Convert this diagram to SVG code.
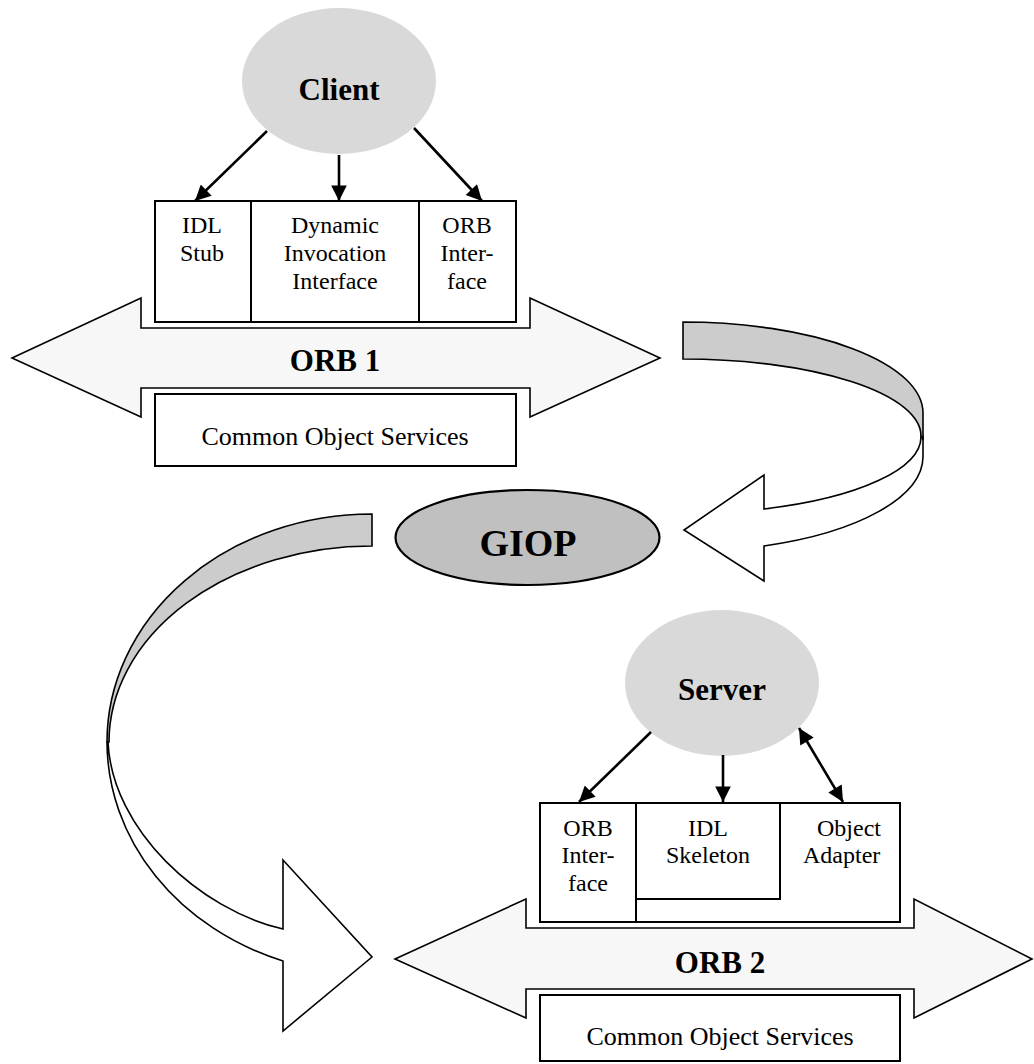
<svg xmlns="http://www.w3.org/2000/svg" width="1034" height="1064" viewBox="0 0 1034 1064">
  <style>
    .bg { fill: #ffffff; }
    .actor { fill: #d9d9d9; stroke: none; }
    .box { fill: #ffffff; stroke: #000000; stroke-width: 2; }
    .line { fill: none; stroke: #000000; stroke-width: 2; }
    .bus { fill: #f7f7f7; stroke: #000000; stroke-width: 1.6; stroke-linejoin: miter; }
    .band { fill: #cccccc; stroke: #000000; stroke-width: 1.6; }
    .back { fill: #ffffff; stroke: #000000; stroke-width: 1.6; }
    .giop { fill: #c0c0c0; stroke: #000000; stroke-width: 2.2; }
    .link { fill: none; stroke: #000000; stroke-width: 2.6; }
    text { font-family: "Liberation Serif", "Times New Roman", "DejaVu Serif", serif; fill: #000000; text-anchor: middle; }
    .small { font-size: 24px; }
    .svc { font-size: 26px; }
    .title { font-size: 31px; font-weight: bold; }
    .big { font-size: 38px; font-weight: bold; }
  </style>
  <defs>
    <marker id="head" viewBox="0 0 10 10" refX="10" refY="5" markerWidth="7" markerHeight="6" markerUnits="strokeWidth" orient="auto-start-reverse">
      <path d="M0,0 L10,5 L0,10 Z" fill="#000000"/>
    </marker>
  </defs>

  <rect class="bg" x="0" y="0" width="1034" height="1064"/>

  <!-- client side ORB bus -->
  <g id="orb1">
    <polygon class="bus" points="12,358 141,298 141,328 530,328 530,298 660,358 530,417 530,388 141,388 141,417"/>
    <text class="title" x="335" y="371">ORB 1</text>
  </g>

  <!-- server side ORB bus -->
  <g id="orb2">
    <polygon class="bus" points="395,959 526,899 526,928 914,928 914,899 1032,959 914,1018 914,989 526,989 526,1018"/>
    <text class="title" x="720" y="973">ORB 2</text>
  </g>

  <g id="client">
    <ellipse class="actor" cx="339" cy="81" rx="97" ry="73"/>
    <text class="title" x="339" y="100">Client</text>
  </g>

  <g id="client-interfaces">
    <rect class="box" x="155" y="201" width="361" height="121"/>
    <line class="line" x1="251" y1="201" x2="251" y2="322"/>
    <line class="line" x1="419" y1="201" x2="419" y2="322"/>
    <text class="small" x="202" y="233">IDL</text>
    <text class="small" x="202" y="261">Stub</text>
    <text class="small" x="335" y="233">Dynamic</text>
    <text class="small" x="335" y="261">Invocation</text>
    <text class="small" x="335" y="289">Interface</text>
    <text class="small" x="467" y="233">ORB</text>
    <text class="small" x="467" y="261">Inter-</text>
    <text class="small" x="467" y="289">face</text>
  </g>

  <g id="services1">
    <rect class="box" x="155" y="394" width="361" height="72"/>
    <text class="svc" x="335" y="445">Common Object Services</text>
  </g>

  <g id="giop">
    <ellipse class="giop" cx="527.5" cy="537.5" rx="132" ry="47.5"/>
    <text class="big" x="528" y="556">GIOP</text>
  </g>

  <g id="server">
    <ellipse class="actor" cx="722" cy="683" rx="97" ry="73"/>
    <text class="title" x="722" y="700">Server</text>
  </g>

  <g id="server-interfaces">
    <rect class="box" x="540" y="803" width="360" height="119"/>
    <line class="line" x1="636" y1="803" x2="636" y2="922"/>
    <rect class="box" x="636" y="803" width="144" height="96"/>
    <text class="small" x="588" y="836">ORB</text>
    <text class="small" x="588" y="863">Inter-</text>
    <text class="small" x="588" y="891">face</text>
    <text class="small" x="708" y="836">IDL</text>
    <text class="small" x="708" y="863">Skeleton</text>
    <text class="small" x="817" y="836" style="text-anchor:start">Object</text>
    <text class="small" x="803" y="863" style="text-anchor:start">Adapter</text>
  </g>

  <g id="services2">
    <rect class="box" x="540" y="995" width="360" height="66"/>
    <text class="svc" x="720" y="1045">Common Object Services</text>
  </g>

  <!-- curved ribbon arrow from ORB 1 down to GIOP -->
  <g id="flow-down">
    <path class="back" d="M921,436 A238,77 0 0 1 764,509 L764,475 L684,530 L764,581 L764,546 A240,95 0 0 0 923,457 L923,436 Z"/>
    <path class="band" d="M683,322 A240,91 0 0 1 923,413 L923,440 L921,436 A238,77 0 0 0 683,359 Z"/>
  </g>

  <!-- curved ribbon arrow from GIOP down to ORB 2 -->
  <g id="flow-up">
    <path class="back" d="M107,742 A265,233 0 0 0 283,961 L283,1031 L372,957 L283,860 L283,929 C200,910 112,830 108,742 Z"/>
    <path class="band" d="M372,514 A265,228 0 0 0 107,742 L109,742 A263,196 0 0 1 372,546 Z"/>
  </g>

  <g id="connectors">
    <line class="link" x1="267" y1="131" x2="195" y2="201" marker-end="url(#head)"/>
    <line class="link" x1="339" y1="155" x2="339" y2="201" marker-end="url(#head)"/>
    <line class="link" x1="414" y1="128" x2="482" y2="201" marker-end="url(#head)"/>
    <line class="link" x1="651" y1="732" x2="579" y2="802" marker-end="url(#head)"/>
    <line class="link" x1="723" y1="755" x2="723" y2="802" marker-end="url(#head)"/>
    <line class="link" x1="799" y1="728" x2="843" y2="802" marker-start="url(#head)" marker-end="url(#head)"/>
  </g>
</svg>
